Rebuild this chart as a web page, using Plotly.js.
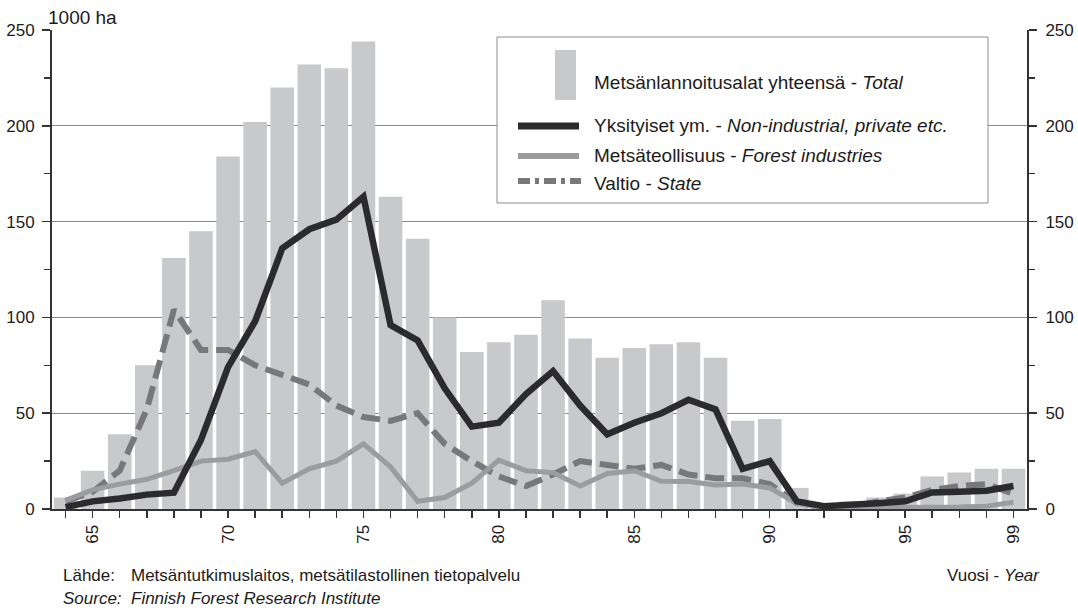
<!DOCTYPE html>
<html>
<head>
<meta charset="utf-8">
<script src="https://cdn.plot.ly/plotly-3.0.1.min.js"></script>
<style>html,body{margin:0;padding:0;background:#fff;}#chart{width:1078px;height:614px;}</style>
</head>
<body>
<div id="chart"></div>
<script>
// ---- data ----
const years = [1964,1965,1966,1967,1968,1969,1970,1971,1972,1973,1974,1975,1976,1977,1978,1979,1980,1981,1982,1983,1984,1985,1986,1987,1988,1989,1990,1991,1992,1993,1994,1995,1996,1997,1998,1999];
const yearLabels = ['','65','','','','','70','','','','','75','','','','','80','','','','','85','','','','','90','','','','','95','','','','99'];
const total = [6,20,39,75,131,145,184,202,220,232,230,244,163,141,100,82,87,91,109,89,79,84,86,87,79,46,47,11,3,4,6,8,17,19,21,21];
const privateEtc = [1,4,5.5,7.5,8.5,36,74,98,136,146,151,163,96,88,63,43,45,60,72,54,39,45,50,57,52,21,25,4,1.5,2,3,4,8.6,9,9.5,12];
const industries = [4.5,10,13,15.5,20,25,26,30,13.5,21,25,34,22,4,6,13.5,25.5,20,19,12,18.5,20,14.5,14.3,12.5,13,11,3,0.5,0.5,0.5,1,1,1,1.5,3.5];
const state = [4,9,20,52,104,83,83,75,70,65,54,48,46,50,34,25,17,12,18,25,23,21,23,18,16,16,13,3,1,1,4,6,10,12,13,8];

const names = {
  total: 'Metsänlannoitusalat yhteensä - <i>Total</i>',
  priv: 'Yksityiset ym. - <i>Non-industrial, private etc.</i>',
  ind: 'Metsäteollisuus - <i>Forest industries</i>',
  state: 'Valtio - <i>State</i>'
};

const FONT = 'Liberation Sans, Arial, Helvetica, sans-serif';
const TXT = '#1e1b1c';
const C_BAR = '#c8c9cb', C_PRIV = '#2b2a2c', C_IND = '#9b9c9e', C_STATE = '#77787b';
const STATE_DASH = '19px,8px';

const traces = [
  {type:'bar', x:years, y:total, name:names.total, marker:{color:C_BAR, line:{width:0}}, hoverinfo:'x+y'},
  {type:'scatter', mode:'lines', x:years, y:state, name:names.state, line:{color:C_STATE, width:6, dash:STATE_DASH}},
  {type:'scatter', mode:'lines', x:years, y:industries, name:names.ind, line:{color:C_IND, width:5}},
  {type:'scatter', mode:'lines', x:years, y:privateEtc, name:names.priv, line:{color:C_PRIV, width:6.5}},
  {type:'scatter', mode:'lines', x:[years[0]], y:[null], yaxis:'y2', showlegend:false, hoverinfo:'skip'}
];

// legend geometry helpers (pixel -> paper)
const L = 52, R = 1027, T = 30, B = 509;
const px = v => (v - L) / (R - L);
const py = v => (B - v) / (B - T);

const shapes = [
  {type:'rect', xref:'paper', yref:'paper', x0:px(497), x1:px(988), y0:py(203), y1:py(37), line:{color:'#8e8e8e', width:1}, fillcolor:'#ffffff', layer:'above'},
  {type:'rect', xref:'paper', yref:'paper', x0:px(555), x1:px(576), y0:py(100), y1:py(50), line:{width:0}, fillcolor:C_BAR, layer:'above'},
  {type:'line', xref:'paper', yref:'paper', x0:px(518), x1:px(579), y0:py(126), y1:py(126), line:{color:C_PRIV, width:7}, layer:'above'},
  {type:'line', xref:'paper', yref:'paper', x0:px(518), x1:px(579), y0:py(156), y1:py(156), line:{color:C_IND, width:6}, layer:'above'},
  {type:'line', xref:'paper', yref:'paper', x0:px(518), x1:px(581), y0:py(181), y1:py(181), line:{color:C_STATE, width:6, dash:'12px,5px,4px,5px'}, layer:'above'}
];

const legFont = {family:FONT, size:19, color:TXT};
const footFont = {family:FONT, size:17, color:TXT};
const annotations = [
  {xref:'paper', yref:'paper', x:px(592), y:py(82), xanchor:'left', yanchor:'middle', text:names.total, showarrow:false, font:legFont},
  {xref:'paper', yref:'paper', x:px(592), y:py(126), xanchor:'left', yanchor:'middle', text:names.priv, showarrow:false, font:legFont},
  {xref:'paper', yref:'paper', x:px(592), y:py(155), xanchor:'left', yanchor:'middle', text:names.ind, showarrow:false, font:legFont},
  {xref:'paper', yref:'paper', x:px(592), y:py(183), xanchor:'left', yanchor:'middle', text:names.state, showarrow:false, font:legFont},
  {xref:'paper', yref:'paper', x:px(46), y:py(18), xanchor:'left', yanchor:'middle', text:'1000 ha', showarrow:false, font:{family:FONT, size:19, color:TXT}},
  {xref:'paper', yref:'paper', x:px(61), y:py(575), xanchor:'left', yanchor:'middle', text:'Lähde:', showarrow:false, font:footFont},
  {xref:'paper', yref:'paper', x:px(129), y:py(575), xanchor:'left', yanchor:'middle', text:'Metsäntutkimuslaitos, metsätilastollinen tietopalvelu', showarrow:false, font:footFont},
  {xref:'paper', yref:'paper', x:px(61), y:py(598), xanchor:'left', yanchor:'middle', text:'<i>Source:</i>', showarrow:false, font:footFont},
  {xref:'paper', yref:'paper', x:px(129), y:py(598), xanchor:'left', yanchor:'middle', text:'<i>Finnish Forest Research Institute</i>', showarrow:false, font:footFont},
  {xref:'paper', yref:'paper', x:px(1042), y:py(575), xanchor:'right', yanchor:'middle', text:'Vuosi - <i>Year</i>', showarrow:false, font:footFont}
];

const yCommon = {
  range:[0,250], tick0:0, dtick:50, ticks:'outside', ticklen:8, tickwidth:1.5, tickcolor:'#333',
  showline:true, linecolor:'#333', linewidth:2, zeroline:false,
  tickfont:{family:FONT, size:17, color:TXT},
  minor:{dtick:25, ticks:'outside', ticklen:6, tickwidth:1.5, tickcolor:'#333', showgrid:false}
};

const layout = {
  width:1078, height:614,
  margin:{l:L, r:1078-R, t:T, b:614-B, pad:0},
  paper_bgcolor:'#fff', plot_bgcolor:'#fff',
  showlegend:false,
  bargap:0.13,
  font:{family:FONT, color:TXT},
  xaxis:{
    range:[1963.5,1999.5], tickmode:'array', tickvals:years, ticktext:yearLabels, tickangle:-90,
    ticks:'outside', ticklen:7, tickwidth:1.5, tickcolor:'#333',
    showline:true, linecolor:'#333', linewidth:2, showgrid:false, zeroline:false,
    tickfont:{family:FONT, size:17, color:TXT}
  },
  yaxis:Object.assign({}, yCommon, {side:'left', showgrid:true, gridcolor:'#8c8c8c', gridwidth:1, ticklabelstandoff:4}),
  yaxis2:Object.assign({}, yCommon, {side:'right', overlaying:'y', showgrid:false, ticklabelstandoff:5}),
  shapes:shapes,
  annotations:annotations
};

Plotly.newPlot('chart', traces, layout, {displayModeBar:false, staticPlot:true});
</script>
</body>
</html>
